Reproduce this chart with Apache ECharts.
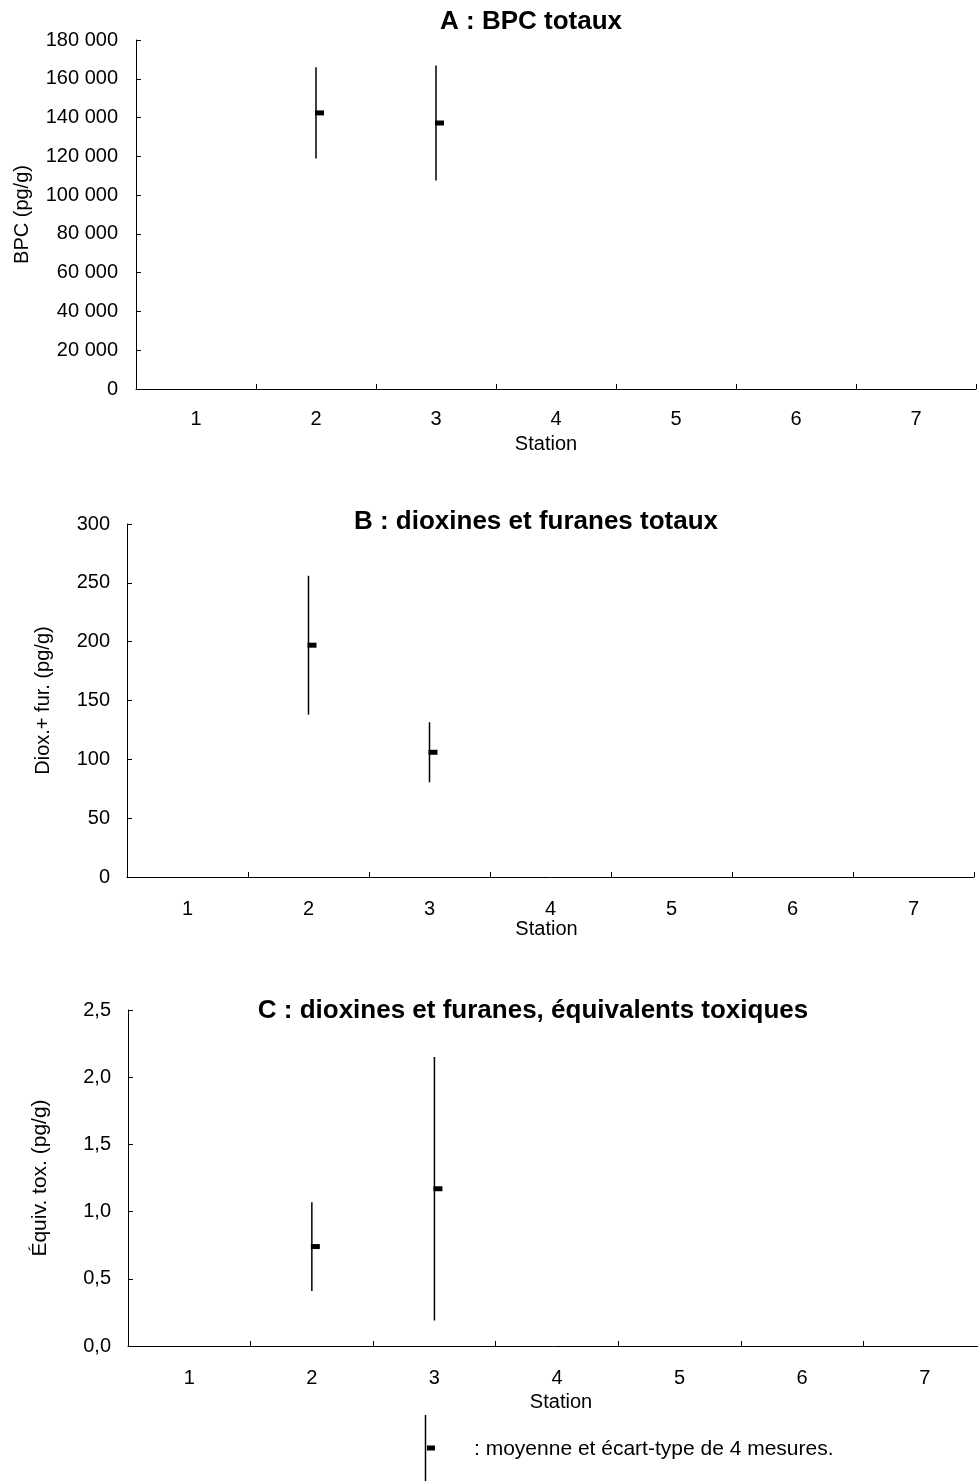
<!DOCTYPE html>
<html>
<head>
<meta charset="utf-8">
<script src="https://cdn.jsdelivr.net/npm/echarts@6/dist/echarts.min.js"></script>
<style>
  html, body { margin: 0; padding: 0; background: #fff; }
  #chart { width: 978px; height: 1481px; }
</style>
</head>
<body>
<div id="chart"></div>
<script>
// Stations along the river (x categories)
const stations = ['1', '2', '3', '4', '5', '6', '7'];

// A : total PCBs (pg/g) — mean and standard deviation of 4 measurements
const bpcMean = [null, 142400, 137200, null, null, null, null];
const bpcSd   = [null, 23500, 29700, null, null, null, null];

// B : total dioxins and furans (pg/g)
const dfMean = [null, 197, 106, null, null, null, null];
const dfSd   = [null, 59, 25.5, null, null, null, null];

// C : dioxins and furans, toxic equivalents (pg/g)
const teqMean = [null, 0.74, 1.17, null, null, null, null];
const teqSd   = [null, 0.33, 0.98, null, null, null, null];

// Panel titles and axis names
const titles = [
  'A : BPC totaux',
  'B : dioxines et furanes totaux',
  'C : dioxines et furanes, équivalents toxiques'
];
const yNames = ['BPC (pg/g)', 'Diox.+ fur. (pg/g)', 'Équiv. tox. (pg/g)'];
const xName = 'Station';
const legendText = ': moyenne et écart-type de 4 mesures.';

const FONT = 'Liberation Sans, Arial, Helvetica, sans-serif';
const INK = '#000';

function toRows(means, sds) {
  const rows = [];
  means.forEach((m, i) => { if (m != null) rows.push([i, m, sds[i]]); });
  return rows;
}

// Vertical line = mean ± sd, short thick dash = mean
function renderErrorBar(params, api) {
  const x = api.value(0), m = api.value(1), s = api.value(2);
  const top = api.coord([x, m + s]);
  const bot = api.coord([x, m - s]);
  const mid = api.coord([x, m]);
  return {
    type: 'group',
    children: [
      { type: 'line', shape: { x1: top[0], y1: top[1], x2: bot[0], y2: bot[1] },
        style: { stroke: INK, lineWidth: 1.5 } },
      { type: 'rect', shape: { x: mid[0] - 1, y: mid[1] - 2.5, width: 9, height: 5 },
        style: { fill: INK } }
    ]
  };
}

function xAxisFor(gridIndex, labelMargin, nameGap, namePadding) {
  return {
    type: 'category', gridIndex, data: stations, boundaryGap: true,
    axisLine: { show: true, lineStyle: { color: INK, width: 1 } },
    axisTick: { show: true, inside: true, length: 5, lineStyle: { color: INK } },
    axisLabel: { margin: labelMargin, fontSize: 20, color: INK, fontFamily: FONT },
    splitLine: { show: false },
    name: xName, nameLocation: 'middle', nameGap,
    nameTextStyle: { fontSize: 20, color: INK, fontFamily: FONT, padding: namePadding }
  };
}

function yAxisFor(gridIndex, max, interval, fmt, labelMargin, name, nameGap, nameSize) {
  return {
    type: 'value', gridIndex, min: 0, max, interval,
    axisLine: { show: true, lineStyle: { color: INK, width: 1 } },
    axisTick: { show: true, inside: true, length: 5, lineStyle: { color: INK } },
    axisLabel: { margin: labelMargin, fontSize: 20, color: INK, fontFamily: FONT, formatter: fmt },
    splitLine: { show: false },
    name, nameLocation: 'middle', nameGap, nameRotate: 90,
    nameTextStyle: { fontSize: nameSize, color: INK, fontFamily: FONT }
  };
}

const thousands = v => String(v).replace(/\B(?=(\d{3})+(?!\d))/g, ' ');
const decimalComma = v => v.toFixed(1).replace('.', ',');

const chart = echarts.init(document.getElementById('chart'), null, { renderer: 'canvas' });

chart.setOption({
  backgroundColor: '#fff',
  animation: false,
  grid: [
    { left: 136, top: 40, width: 840, height: 349, outerBoundsMode: 'none' },
    { left: 127, top: 524, width: 847, height: 353, outerBoundsMode: 'none' },
    // the last panel's axis runs slightly past the right edge of the page
    { left: 128, top: 1010, width: 858, height: 336, outerBoundsMode: 'none' }
  ],
  xAxis: [
    xAxisFor(0, 20, 45, [0, 20, 0, 0]),
    xAxisFor(1, 22, 42, [0, 8, 0, 0]),
    xAxisFor(2, 22, 46, [0, 0, 0, 8])
  ],
  yAxis: [
    yAxisFor(0, 180000, 20000, thousands, 18, yNames[0], 104, 20),
    yAxisFor(1, 300, 50, null, 17, yNames[1], 74, 20),
    yAxisFor(2, 2.5, 0.5, decimalComma, 17, yNames[2], 77, 21)
  ],
  series: [
    { type: 'custom', xAxisIndex: 0, yAxisIndex: 0, renderItem: renderErrorBar,
      data: toRows(bpcMean, bpcSd), encode: { x: 0, y: 1 } },
    { type: 'custom', xAxisIndex: 1, yAxisIndex: 1, renderItem: renderErrorBar,
      data: toRows(dfMean, dfSd), encode: { x: 0, y: 1 } },
    { type: 'custom', xAxisIndex: 2, yAxisIndex: 2, renderItem: renderErrorBar,
      data: toRows(teqMean, teqSd), encode: { x: 0, y: 1 } }
  ],
  graphic: [
    { type: 'text', x: 531, y: 22,
      style: { text: titles[0], align: 'center', verticalAlign: 'middle',
               font: 'bold 26px ' + FONT, fill: INK } },
    { type: 'text', x: 536, y: 522,
      style: { text: titles[1], align: 'center', verticalAlign: 'middle',
               font: 'bold 26px ' + FONT, fill: INK } },
    { type: 'text', x: 533, y: 1011,
      style: { text: titles[2], align: 'center', verticalAlign: 'middle',
               font: 'bold 26px ' + FONT, fill: INK } },
    // key: line + dash glyph followed by its explanation
    { type: 'line', shape: { x1: 425.5, y1: 1415, x2: 425.5, y2: 1481 },
      style: { stroke: INK, lineWidth: 1.5 } },
    { type: 'rect', shape: { x: 427, y: 1445.5, width: 8, height: 5 }, style: { fill: INK } },
    { type: 'text', x: 474, y: 1449,
      style: { text: legendText, align: 'left', verticalAlign: 'middle',
               font: '21px ' + FONT, fill: INK } }
  ]
});
</script>
</body>
</html>
